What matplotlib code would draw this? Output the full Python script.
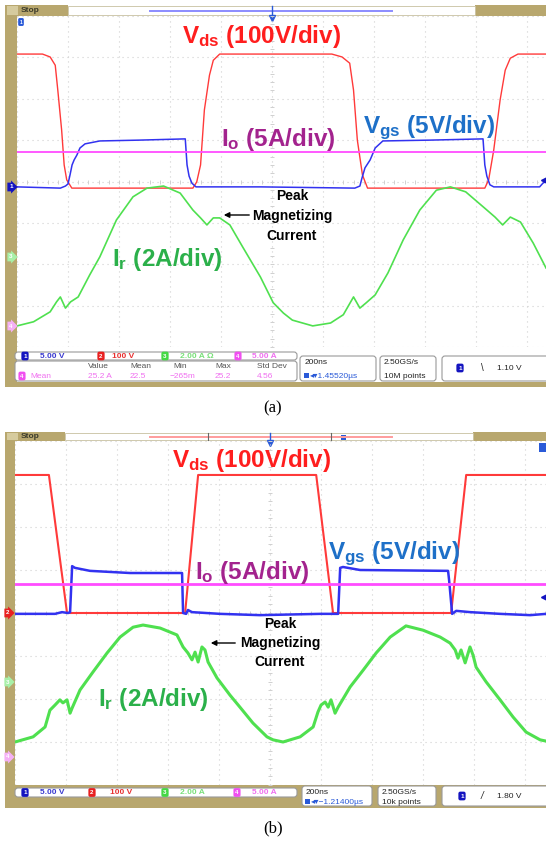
import matplotlib
matplotlib.use("Agg")
import matplotlib.pyplot as plt
from matplotlib.patches import Rectangle, FancyBboxPatch
import numpy as np

plt.rcParams.update({
    "font.family": ["Liberation Sans", "DejaVu Sans"],
    "mathtext.fontset": "custom",
    "mathtext.rm": "Liberation Sans",
    "mathtext.bf": "Liberation Sans:bold",
    "mathtext.it": "Liberation Sans:italic",
})

# ---- traces: time in ns (200 ns/div), level in divisions ----
# (a)
a_vds_t = [0, 100, 130, 150, 160, 175, 185, 195, 215, 690, 705, 720, 735, 755, 770, 795,
           1235, 1275, 1305, 1320, 1335, 1355, 1375, 1835, 1850, 1870, 1895, 1915, 1935, 1965, 2075]
a_vds_v = [3.08, 3.08, 3.01, 2.81, 2.21, 1.25, 0.40, 0.04, -0.16, -0.16, -0.01, 0.40, 1.73, 2.57, 2.93, 3.08,
           3.08, 3.01, 2.86, 2.21, 1.00, 0.16, -0.16, -0.16, 0.04, 0.76, 1.97, 2.69, 2.98, 3.08, 3.08]
a_vgs_t = [0, 170, 190, 200, 208, 216, 224, 235, 247, 267, 325, 480, 660, 667, 675, 686, 702, 955,
           1325, 1345, 1353, 1365, 1385, 1405, 1435, 1620, 1828, 1835, 1843, 1855, 1870, 2050, 2063, 2075]
a_vgs_v = [-0.13, -0.16, -0.11, -0.06, 0.16, 0.40, 0.52, 0.64, 0.81, 0.91, 0.98, 1.00, 1.03, 0.40, 0.13,
           -0.04, -0.13, -0.13, -0.16, -0.11, 0.08, 0.33, 0.52, 0.81, 0.98, 1.00, 1.03, 0.40, 0.13, -0.08,
           -0.13, -0.13, -0.04, 0.0]
a_io_t = [0, 2075]
a_io_v = [0.71, 0.71]
a_ir_t = [0, 65, 130, 155, 170, 190, 210, 240, 285, 325, 390, 455, 510, 575, 640, 690, 720, 745, 770, 795,
          835, 885, 955, 1005, 1045, 1080, 1160, 1230, 1280, 1320, 1345, 1370, 1405, 1455, 1515, 1580,
          1645, 1700, 1760, 1830, 1875, 1905, 1935, 1975, 2025, 2075]
a_ir_v = [-3.49, -3.39, -3.15, -2.91, -2.79, -3.06, -2.91, -2.79, -2.26, -1.82, -0.93, -0.37, -0.16, -0.11,
          -0.28, -0.69, -0.88, -1.05, -0.88, -0.88, -1.05, -1.58, -2.31, -2.93, -3.18, -3.35, -3.49, -3.42,
          -3.22, -2.79, -3.06, -2.93, -2.74, -2.21, -1.41, -0.69, -0.21, -0.13, -0.25, -0.62, -0.86, -1.05,
          -0.86, -0.98, -1.49, -2.09]

# (b)
b_vds_t = [0, 133, 204, 667, 718, 1181, 1247, 1710, 1769, 2083]
b_vds_v = [3.21, 3.21, 0, 0, 3.21, 3.21, 0, 0, 3.21, 3.21]
b_vgs_t = [0, 157, 184, 208, 216, 224, 235, 294, 451, 655, 659, 671, 678, 694, 804, 961, 1196, 1267,
           1275, 1286, 1353, 1698, 1702, 1714, 1730, 1785, 1902, 2020, 2083]
b_vgs_v = [-0.02, -0.02, 0.02, 0.0, 0.02, 1.09, 1.05, 0.98, 0.93, 0.93, 0.0, -0.02, 0.07, 0.02, -0.02,
           -0.05, -0.02, -0.02, 1.05, 1.07, 1.0, 0.98, 0.77, -0.02, 0.05, 0.02, -0.02, -0.05, -0.02]
b_io_t = [0, 2083]
b_io_v = [0.67, 0.67]
b_ir_t = [0, 71, 118, 137, 157, 176, 188, 204, 216, 224, 255, 306, 361, 412, 463, 502, 569, 635, 659,
          678, 694, 706, 718, 733, 745, 757, 792, 843, 882, 933, 988, 1012, 1051, 1118, 1169, 1188, 1200,
          1216, 1228, 1239, 1255, 1267, 1314, 1365, 1416, 1471, 1533, 1600, 1667, 1706, 1726, 1737, 1749,
          1765, 1784, 1796, 1808, 1847, 1902, 1953, 2004, 2059, 2083]
b_ir_v = [-3.00, -2.88, -2.65, -2.26, -2.14, -2.02, -2.09, -2.02, -2.33, -2.21, -1.79, -1.37, -0.93,
          -0.56, -0.33, -0.28, -0.35, -0.51, -0.79, -0.93, -1.09, -0.91, -1.14, -0.79, -0.86, -1.14, -1.51,
          -1.91, -2.19, -2.56, -2.88, -2.95, -3.00, -2.88, -2.65, -2.30, -2.14, -2.07, -2.19, -2.02, -2.33,
          -2.19, -1.72, -1.33, -0.93, -0.56, -0.30, -0.40, -0.56, -0.70, -0.86, -1.05, -0.86, -1.16, -0.79,
          -0.98, -1.26, -1.60, -2.02, -2.42, -2.77, -2.95, -2.98]

channels = ["5.00 V", "100 V", "2.00 A", "5.00 A"]
meas_head = ["Value", "Mean", "Min", "Max", "Std Dev"]
meas_vals = ["25.2 A", "22.5", "\u2212265m", "25.2", "4.56"]

W, H = 546, 842
OLIVE = "#b8a76e"
RED, BLUE, PINK, GREEN = "#ff3a3a", "#3232f0", "#ff4cff", "#4fe04f"
CH_COL = ["#1414c0", "#e82020", "#45d845", "#f050f0"]
TXT_COL = ["#3a3ad0", "#e83030", "#7ae07a", "#f070f0"]
GRID = "#d0d0d0"

fig = plt.figure(figsize=(W / 100, H / 100), dpi=100)
fig.patch.set_facecolor("white")


def px_axes(x0, y0, x1, y1, z):
    ax = fig.add_axes([x0 / W, 1 - y1 / H, (x1 - x0) / W, (y1 - y0) / H], zorder=z)
    return ax


bg = px_axes(0, 0, W, H, 0)
fg = px_axes(0, 0, W, H, 5)
for ax in (bg, fg):
    ax.set_xlim(0, W)
    ax.set_ylim(H, 0)
    ax.axis("off")
    ax.patch.set_alpha(0)


def rect(ax, x0, y0, x1, y1, **kw):
    ax.add_patch(Rectangle((x0, y0), x1 - x0, y1 - y0, **kw))


def rbox(ax, x0, y0, x1, y1):
    ax.add_patch(FancyBboxPatch((x0, y0), x1 - x0, y1 - y0,
                                boxstyle="round,pad=0,rounding_size=3",
                                fc="white", ec="#9a9a9a", lw=0.8))


def tag(ax, x, y, label, fc, style="round", size=4.5, tc="white"):
    ax.text(x, y, label, ha="center", va="center", fontsize=size, fontweight="bold",
            color=tc, bbox=dict(boxstyle=style + ",pad=0.3", fc=fc, ec="none"))


def grat(ax, tmax):
    ax.set_xlim(0, tmax)
    ax.set_ylim(-4, 4)
    ax.patch.set_alpha(0)
    ax.set_xticks(np.arange(0, tmax, 200))
    ax.set_yticks(np.arange(-4, 5, 1))
    ax.grid(color=GRID, linestyle=(0, (1, 3.5)), linewidth=0.8)
    ax.tick_params(length=0, labelbottom=False, labelleft=False)
    for s in ax.spines.values():
        s.set_visible(False)
    ax.plot(np.full(41, 1000), np.linspace(-4, 4, 41), ls="none", marker="_",
            ms=3, color=GRID, mew=0.7)
    ax.plot(np.arange(0, tmax, 40), np.zeros(len(np.arange(0, tmax, 40))), ls="none",
            marker="|", ms=3, color=GRID, mew=0.7)


def topbar(y0, y1, xw0, xw1, trig_x, line_col):
    rect(bg, 5, y0, xw0, y1, fc=OLIVE, ec="none")
    rect(bg, xw1, y0, W, y1, fc=OLIVE, ec="none")
    rect(bg, xw0, y0 + 1, xw1, y1 - 1, fc="white", ec="#c8c0a0", lw=0.6)
    rect(bg, 7, y0 + 1, 18, y1 - 1, fc="#d6cb9e", ec="none")
    bg.text(21, (y0 + y1) / 2, "Stop", fontsize=6, fontweight="bold", color="#3a3a2a",
            ha="left", va="center")
    bg.plot([150, 392], [(y0 + y1) / 2] * 2, color=line_col, lw=1.4)
    bg.plot([trig_x, trig_x], [y0 + 1, y1 + 2], color="#2a5ad8", lw=1.0)
    bg.plot([trig_x], [y1 + 2], marker="v", ms=4, color="#2a5ad8")


def status_row(y, xs, tag_x, ohm):
    for i in range(4):
        tag(fg, tag_x[i], y, str(i + 1), CH_COL[i])
        fg.text(xs[i], y, channels[i] + (" \u03a9" if (i == 2 and ohm) else ""),
                fontsize=6, color=TXT_COL[i], ha="left", va="center", fontweight="bold")


lab = dict(fontsize=17.5, fontweight="bold", ha="left", va="baseline")
note = dict(fontsize=10, fontweight="bold", ha="center", va="center", linespacing=1.5)

# ================= panel (a) =================
rect(bg, 5, 5, 17, 387, fc=OLIVE, ec="none")
rect(bg, 5, 382, W, 387, fc=OLIVE, ec="none")
topbar(5, 16, 68, 475, 272, "#8c8cff")

axa = px_axes(17, 16, W, 347, 2)
grat(axa, 2075)
axa.plot(a_vds_t, a_vds_v, color=RED, lw=1.0)
axa.plot(a_ir_t, a_ir_v, color=GREEN, lw=1.2)
axa.plot(a_vgs_t, a_vgs_v, color=BLUE, lw=1.1)
axa.plot(a_io_t, a_io_v, color=PINK, lw=1.3)

tag(fg, 11, 187, "1", CH_COL[0], style="rarrow")
tag(fg, 11, 257, "3", "#a8f0a8", style="rarrow")
tag(fg, 11, 326, "4", "#f5b0f5", style="rarrow")
tag(fg, 21, 22, "1", "#2a5ad8", size=3.5)
fg.plot([544], [180], marker="<", ms=5, color=CH_COL[0])

fg.text(182, 43, r"$\mathbf{V_{ds}}$ (100V/div)", color="#ff1e1e", **lab)
fg.text(221, 146, r"$\mathbf{I_{o}}$ (5A/div)", color="#a3238e", **lab)
fg.text(363, 133, r"$\mathbf{V_{gs}}$ (5V/div)", color="#1e70c8", **lab)
fg.text(112, 266, r"$\mathbf{I_{r}}$ (2A/div)", color="#2bb04a", **lab)
fg.text(292, 216, "Peak\nMagnetizing\nCurrent", **note)
fg.annotate("", xy=(221, 215), xytext=(252, 215),
            arrowprops=dict(arrowstyle="-|>", color="black", lw=1.0, mutation_scale=8))

rbox(fg, 15, 352, 297, 360)
status_row(356, [40, 112, 180, 252], [25, 101, 165, 238], True)
rbox(fg, 15, 361, 297, 381)
tag(fg, 22, 376, "4", CH_COL[3])
fg.text(30, 376, "Mean", fontsize=6, color=TXT_COL[3], va="center")
for i, (hx, vx) in enumerate(zip([88, 130, 173, 215, 257], [88, 130, 170, 215, 257])):
    fg.text(hx, 367, meas_head[i], fontsize=6, color="#555555", va="center")
    fg.text(vx, 377, meas_vals[i], fontsize=6, color=TXT_COL[3], va="center")
rbox(fg, 300, 356, 376, 381)
fg.text(305, 363, "200ns", fontsize=6, color="#222222", va="center")
rect(fg, 304, 373, 309, 378, fc="#2a5ad8", ec="none")
fg.text(310, 376, "\u25c2\u25be1.45520\u00b5s", fontsize=6, color="#2a5ad8", va="center")
rbox(fg, 380, 356, 436, 381)
fg.text(384, 363, "2.50GS/s", fontsize=6, color="#222222", va="center")
fg.text(384, 376, "10M points", fontsize=6, color="#222222", va="center")
rbox(fg, 442, 356, 556, 381)
tag(fg, 460, 368, "1", CH_COL[0])
fg.text(481, 368, "\\", fontsize=7, color="#222222", va="center")
fg.text(497, 368, "1.10 V", fontsize=6, color="#222222", va="center")

fg.text(273, 408, "(a)", fontsize=12, family="Liberation Serif", ha="center", va="center")

# ================= panel (b) =================
rect(bg, 5, 432, 15, 808, fc=OLIVE, ec="none")
rect(bg, 5, 785, W, 808, fc=OLIVE, ec="none")
topbar(432, 441, 65, 473, 270, "#ff9c9c")
for gx in (208, 331):
    bg.plot([gx, gx], [433, 440], color="#666666", lw=0.8)
rect(bg, 341, 435, 346, 440, fc="#2a5ad8", ec="none")
rect(fg, 539, 443, 546, 452, fc="#2a5ad8", ec="none")

axb = px_axes(15, 441, W, 785, 2)
grat(axb, 2082)
axb.plot(b_vds_t, b_vds_v, color=RED, lw=1.5)
axb.plot(b_ir_t, b_ir_v, color=GREEN, lw=2.2)
axb.plot(b_vgs_t, b_vgs_v, color=BLUE, lw=1.8)
axb.plot(b_io_t, b_io_v, color=PINK, lw=2.0)

tag(fg, 8, 613, "2", CH_COL[1], style="rarrow")
tag(fg, 8, 682, "3", "#a8f0a8", style="rarrow")
tag(fg, 8, 757, "4", "#f5b0f5", style="rarrow")
fg.plot([544], [597], marker="<", ms=5, color=CH_COL[0])

fg.text(172, 467, r"$\mathbf{V_{ds}}$ (100V/div)", color="#ff1e1e", **lab)
fg.text(195, 579, r"$\mathbf{I_{o}}$ (5A/div)", color="#a3238e", **lab)
fg.text(328, 559, r"$\mathbf{V_{gs}}$ (5V/div)", color="#1e70c8", **lab)
fg.text(98, 706, r"$\mathbf{I_{r}}$ (2A/div)", color="#2bb04a", **lab)
fg.text(280, 643, "Peak\nMagnetizing\nCurrent", **note)
fg.annotate("", xy=(208, 643), xytext=(238, 643),
            arrowprops=dict(arrowstyle="-|>", color="black", lw=1.0, mutation_scale=8))

rbox(fg, 15, 788, 297, 797)
status_row(792.5, [40, 110, 180, 252], [25, 92, 165, 237], False)
rbox(fg, 302, 786, 372, 806)
fg.text(306, 792, "200ns", fontsize=6, color="#222222", va="center")
rect(fg, 305, 799, 310, 804, fc="#2a5ad8", ec="none")
fg.text(311, 802, "\u25c2\u25be\u22121.21400\u00b5s", fontsize=6, color="#2a5ad8", va="center")
rbox(fg, 378, 786, 436, 806)
fg.text(382, 792, "2.50GS/s", fontsize=6, color="#222222", va="center")
fg.text(382, 802, "10k points", fontsize=6, color="#222222", va="center")
rbox(fg, 442, 786, 556, 806)
tag(fg, 462, 796, "1", CH_COL[0])
fg.text(481, 796, "/", fontsize=7, color="#222222", va="center", fontstyle="italic")
fg.text(497, 796, "1.80 V", fontsize=6, color="#222222", va="center")

fg.text(273, 828, "(b)", fontsize=12, family="Liberation Serif", ha="center", va="center")

fig.savefig("out.png", dpi=100)
